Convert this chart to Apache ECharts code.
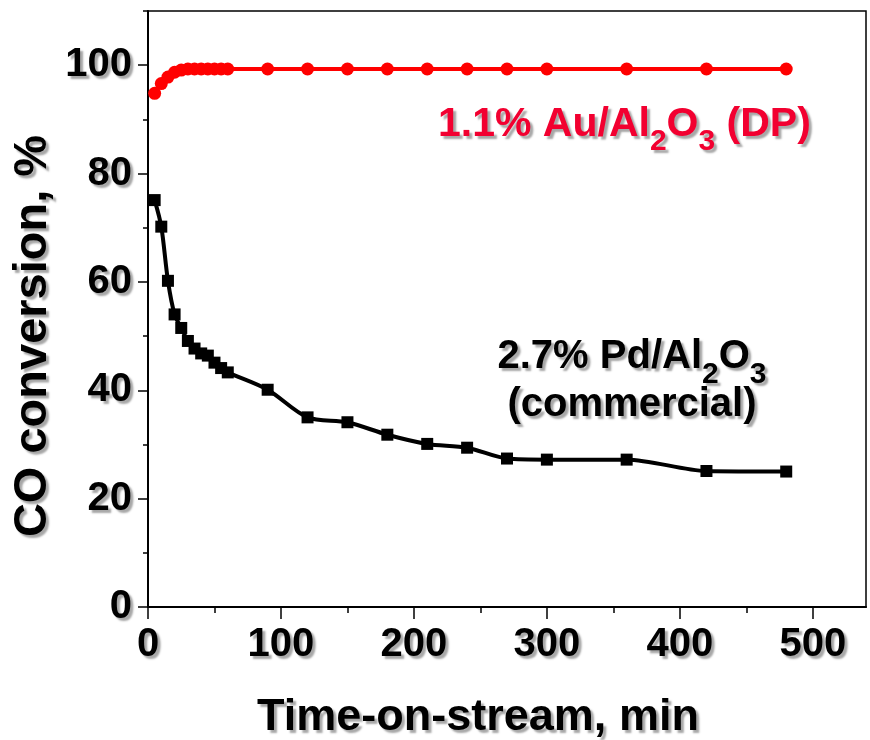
<!DOCTYPE html>
<html>
<head>
<meta charset="utf-8">
<script src="https://cdn.jsdelivr.net/npm/echarts@6/dist/echarts.min.js"></script>
<style>
  html, body { margin: 0; padding: 0; background: #fff; }
  #chart { width: 870px; height: 740px; }
</style>
</head>
<body>
<div id="chart"></div>
<script>
// time on stream, min
var timeMin = [5, 10, 15, 20, 25, 30, 35, 40, 45, 50, 55, 60, 90, 120, 150, 180, 210, 240, 270, 300, 360, 420, 480];
// CO conversion, % - 1.1% Au/Al2O3 (DP)
var convAu = [94.8, 96.6, 97.8, 98.7, 99.1, 99.3, 99.3, 99.3, 99.3, 99.3, 99.3, 99.3, 99.3, 99.3, 99.3, 99.3, 99.3, 99.3, 99.3, 99.3, 99.3, 99.3, 99.3];
// CO conversion, % - 2.7% Pd/Al2O3 (commercial)
var convPd = [75.1, 70.2, 60.2, 54.0, 51.5, 49.1, 47.7, 46.8, 46.4, 45.1, 44.1, 43.3, 40.1, 35.0, 34.1, 31.8, 30.1, 29.4, 27.4, 27.2, 27.2, 25.1, 25.0];
// ticks
var xMajor = [0, 100, 200, 300, 400, 500];
var xMinor = [50, 150, 250, 350, 450];
var yMajor = [0, 20, 40, 60, 80, 100];
var yMinor = [10, 30, 50, 70, 90, 110];

var FONT = '"Liberation Sans", Arial, sans-serif';
var shadow = { textShadowColor: 'rgba(0,0,0,0.35)', textShadowBlur: 2, textShadowOffsetX: 3, textShadowOffsetY: 3 };

function pairs(xs, ys) {
  return xs.map(function (x, i) { return [x, ys[i]]; });
}

var chart = echarts.init(document.getElementById('chart'));

var xBase = { type: 'value', min: 0, max: 540, gridIndex: 0, position: 'bottom', splitLine: { show: false } };
var yBase = { type: 'value', min: 0, max: 110, gridIndex: 0, position: 'left', splitLine: { show: false } };

chart.setOption({
  animation: false,
  backgroundColor: '#fff',
  grid: { left: 148, right: 4, top: 11, bottom: 133, show: true, borderColor: '#000', borderWidth: 1.5, backgroundColor: 'transparent' },
  xAxis: [
    Object.assign({}, xBase, {
      axisLine: { lineStyle: { color: '#000', width: 2 } },
      axisTick: { show: true, length: 12, customValues: xMajor, lineStyle: { color: '#000', width: 1.5 } },
      axisLabel: Object.assign({ customValues: xMajor, margin: 18, color: '#000', fontSize: 40, fontWeight: 'bold', fontFamily: FONT }, shadow)
    }),
    Object.assign({}, xBase, {
      axisLine: { show: false },
      axisTick: { show: true, length: 6, customValues: xMinor, lineStyle: { color: '#000', width: 1.5 } },
      axisLabel: { show: false }
    })
  ],
  yAxis: [
    Object.assign({}, yBase, {
      axisLine: { lineStyle: { color: '#000', width: 2 } },
      axisTick: { show: true, length: 10, customValues: yMajor, lineStyle: { color: '#000', width: 1.5 } },
      axisLabel: Object.assign({ customValues: yMajor, margin: 16, color: '#000', fontSize: 40, fontWeight: 'bold', fontFamily: FONT }, shadow)
    }),
    Object.assign({}, yBase, {
      axisLine: { show: false },
      axisTick: { show: true, length: 5, customValues: yMinor, lineStyle: { color: '#000', width: 1.5 } },
      axisLabel: { show: false }
    })
  ],
  series: [
    {
      name: '2.7% Pd/Al2O3 (commercial)',
      type: 'line',
      data: pairs(timeMin, convPd),
      smooth: 0.3,
      symbol: 'rect',
      symbolSize: 12,
      itemStyle: { color: '#000' },
      lineStyle: { color: '#000', width: 4 }
    },
    {
      name: '1.1% Au/Al2O3 (DP)',
      type: 'line',
      data: pairs(timeMin, convAu),
      smooth: 0.3,
      symbol: 'circle',
      symbolSize: 13,
      itemStyle: { color: '#ff0000' },
      lineStyle: { color: '#ff0000', width: 4 }
    }
  ],
  graphic: [
    {
      type: 'text',
      x: 33, y: 336, rotation: Math.PI / 2,
      style: Object.assign({ text: 'CO conversion, %', font: 'bold 47px ' + FONT, fill: '#000', align: 'center', verticalAlign: 'middle' }, shadow)
    },
    {
      type: 'text',
      x: 478, y: 718,
      style: Object.assign({ text: 'Time-on-stream, min', font: 'bold 45px ' + FONT, fill: '#000', align: 'center', verticalAlign: 'middle' }, shadow)
    },
    {
      type: 'text',
      x: 438, y: 104,
      style: Object.assign({
        text: '{m|1.1% Au/Al}{s|2}{m|O}{s|3}{m| (DP)}',
        fill: '#f20030', align: 'left', verticalAlign: 'top',
        rich: {
          m: { font: 'bold 41px ' + FONT, fill: '#f20030', lineHeight: 44, verticalAlign: 'top' },
          s: { font: 'bold 30px ' + FONT, fill: '#f20030', lineHeight: 30, padding: [23, 0, 0, 0], verticalAlign: 'top' }
        }
      }, shadow)
    },
    {
      type: 'text',
      x: 632, y: 337,
      style: Object.assign({
        text: '{m|2.7% Pd/Al}{s|2}{m|O}{s|3}',
        fill: '#000', align: 'center', verticalAlign: 'top',
        rich: {
          m: { font: 'bold 40px ' + FONT, fill: '#000', lineHeight: 44, verticalAlign: 'top' },
          s: { font: 'bold 30px ' + FONT, fill: '#000', lineHeight: 30, padding: [23, 0, 0, 0], verticalAlign: 'top' }
        }
      }, shadow)
    },
    {
      type: 'text',
      x: 632, y: 385,
      style: Object.assign({ text: '(commercial)', font: 'bold 40px ' + FONT, fill: '#000', align: 'center', verticalAlign: 'top' }, shadow)
    }
  ]
});
</script>
</body>
</html>
